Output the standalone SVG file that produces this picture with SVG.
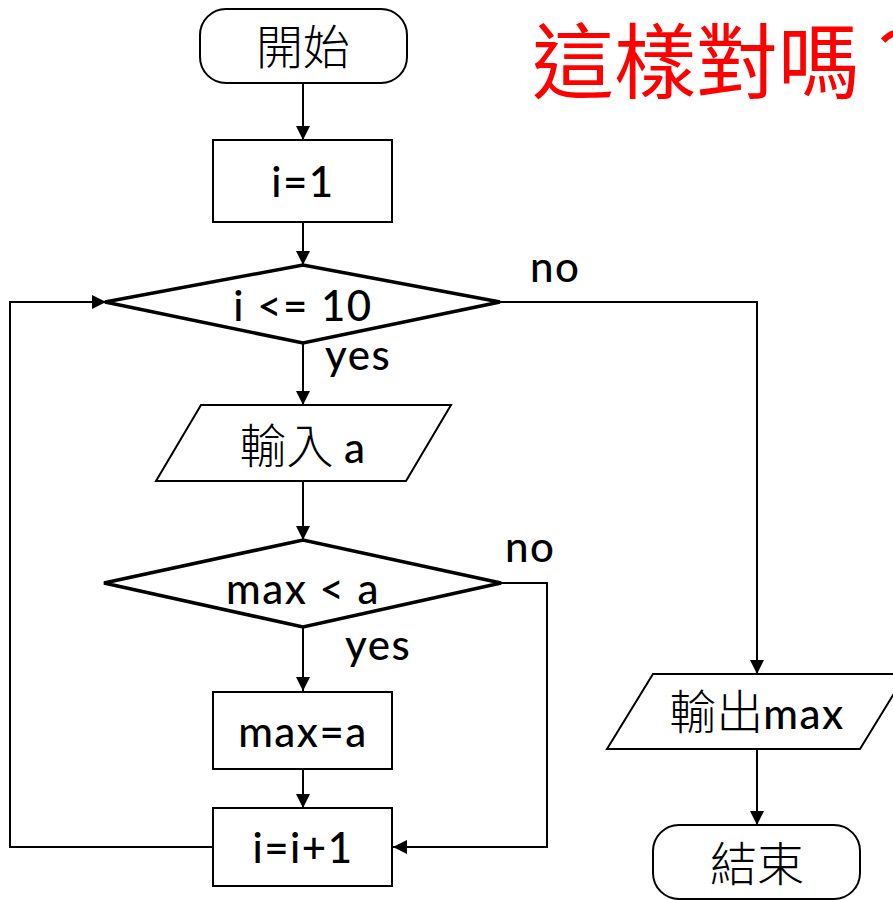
<svg xmlns="http://www.w3.org/2000/svg" width="893" height="900" viewBox="0 0 893 900">
<style>
.shape{fill:#fff;stroke:#000;stroke-width:2}
.dia{fill:#fff;stroke:#000;stroke-width:3.5;stroke-linejoin:miter}
.line{fill:none;stroke:#000;stroke-width:2}
.cjk{font-family:"Noto Sans CJK TC","Noto Sans CJK SC",sans-serif;font-size:47px;font-weight:300;fill:#000}
.lat{font-family:"Lato","Open Sans",sans-serif;font-size:42px;font-weight:500;letter-spacing:1.5px;fill:#000}
.title{font-family:"Noto Sans CJK TC","Noto Sans CJK SC",sans-serif;font-size:82px;fill:#f00}
</style>
<defs>
<marker id="ah" markerWidth="14" markerHeight="14" viewBox="0 0 14 14" refX="14" refY="7" orient="auto" markerUnits="userSpaceOnUse">
<path d="M0,0 L14,7 L0,14 Z" fill="#000"/>
</marker>
</defs>
<text class="title" x="532" y="92">這樣對嗎？</text>
<g id="connectors">
<line class="line" x1="303" y1="83" x2="303" y2="140" marker-end="url(#ah)"/>
<line class="line" x1="303" y1="222" x2="303" y2="265" marker-end="url(#ah)"/>
<line class="line" x1="303" y1="343" x2="303" y2="405" marker-end="url(#ah)"/>
<line class="line" x1="303" y1="481" x2="303" y2="540" marker-end="url(#ah)"/>
<line class="line" x1="303" y1="627" x2="303" y2="691" marker-end="url(#ah)"/>
<line class="line" x1="303" y1="769" x2="303" y2="808" marker-end="url(#ah)"/>
<polyline class="line" points="500,302 757,302 757,674" marker-end="url(#ah)"/>
<polyline class="line" points="501,583 547,583 547,847 393,847" marker-end="url(#ah)"/>
<polyline class="line" points="213,847 10,847 10,302 106,302" marker-end="url(#ah)"/>
<line class="line" x1="757" y1="749" x2="757" y2="825" marker-end="url(#ah)"/>
<text class="lat" x="530" y="282">no</text>
<text class="lat" x="325" y="370">yes</text>
<text class="lat" x="505" y="562">no</text>
<text class="lat" x="345" y="660">yes</text>
</g>
<g id="start">
<rect class="shape" x="200" y="9" width="207" height="74" rx="26"/>
<text class="cjk" x="303" y="64" text-anchor="middle">開始</text>
</g>
<g id="init">
<rect class="shape" x="213" y="140" width="179" height="82"/>
<text class="lat" x="303" y="197" text-anchor="middle">i=1</text>
</g>
<g id="cond1">
<polygon class="dia" points="105,302 303,265 500,302 303,343"/>
<text class="lat" x="303" y="321" text-anchor="middle">i &lt;= 10</text>
</g>
<g id="input">
<polygon class="shape" points="201,405 451,405 406,481 156,481"/>
<text x="303" y="463" text-anchor="middle"><tspan class="cjk">輸入 </tspan><tspan class="lat">a</tspan></text>
</g>
<g id="cond2">
<polygon class="dia" points="104,583 303,540 501,583 303,627"/>
<text class="lat" x="303" y="604" text-anchor="middle">max &lt; a</text>
</g>
<g id="assign">
<rect class="shape" x="213" y="692" width="179" height="77"/>
<text class="lat" x="303" y="747" text-anchor="middle">max=a</text>
</g>
<g id="incr">
<rect class="shape" x="213" y="808" width="179" height="78"/>
<text class="lat" x="303" y="863" text-anchor="middle">i=i+1</text>
</g>
<g id="output">
<polygon class="shape" points="653,674 906,674 860,749 607,749"/>
<text x="757" y="729" text-anchor="middle"><tspan class="cjk">輸出</tspan><tspan class="lat">max</tspan></text>
</g>
<g id="end">
<rect class="shape" x="653" y="825" width="207" height="74" rx="26"/>
<text class="cjk" x="757" y="881" text-anchor="middle">結束</text>
</g>
</svg>
